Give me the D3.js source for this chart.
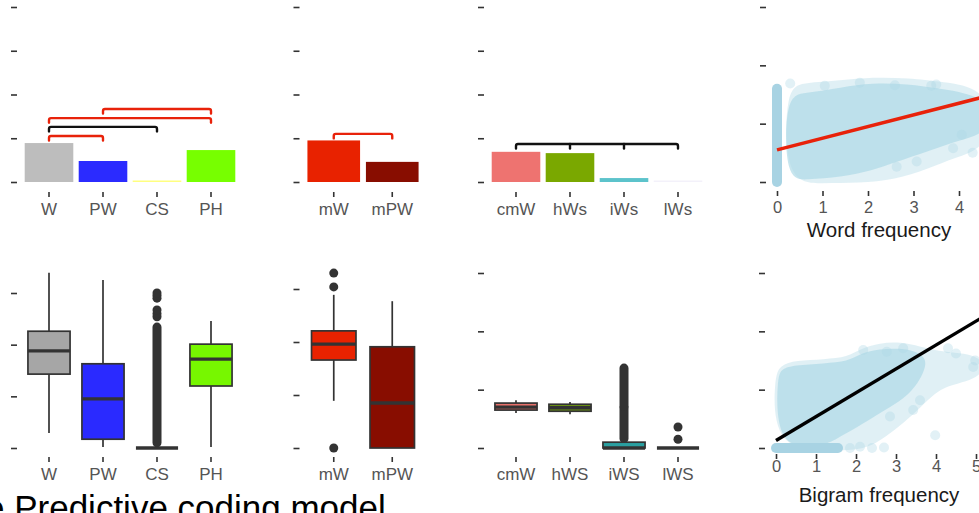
<!DOCTYPE html>
<html>
<head>
<meta charset="utf-8">
<script src="https://cdn.jsdelivr.net/npm/d3@7/dist/d3.min.js"></script>
<style>
  html, body { margin: 0; padding: 0; background: #fff; }
  svg { display: block; font-family: "Liberation Sans", Arial, Helvetica, sans-serif; }
</style>
</head>
<body>
<svg id="chart" width="979" height="513"></svg>
<script>
// ---------------- DATA ----------------
// Top row: bar charts (mean values, arbitrary units)
const barCats1 = ["W", "PW", "CS", "PH"];
const barVals1 = [0.89, 0.48, 0.03, 0.73];
const barCats2 = ["mW", "mPW"];
const barVals2 = [0.95, 0.46];
const barCats3 = ["cmW", "hWs", "iWs", "lWs"];
const barVals3 = [0.69, 0.66, 0.09, 0.01];
const barTicks = [0, 1, 2, 3, 4];

// significance brackets: [from, to, level, significance kind]
const brackets1 = [["W", "PW", 1.05, "red"], ["W", "CS", 1.26, "black"], ["W", "PH", 1.46, "red"], ["PW", "PH", 1.67, "red"]];
const brackets2 = [["mW", "mPW", 1.10, "red"]];
const brackets3 = [["cmW", "lWs", 0.87, "black"]];

// Bottom row: box plots  [lowWhisker, Q1, median, Q3, highWhisker]
const boxCats1 = ["W", "PW", "CS", "PH"];
const boxStats1 = [[0.29, 1.43, 1.88, 2.26, 3.39], [0.02, 0.17, 0.95, 1.63, 3.25], [0, 0, 0, 0, 0], [0.02, 1.20, 1.72, 2.01, 2.46]];
const boxOutliers1 = [[], [], [2.54, 2.60, 2.67, 2.90, 2.95, 3.00], []];
const boxOutlierRuns1 = [[], [], [[0.10, 2.34]], []];

const boxCats2 = ["mW", "mPW"];
const boxStats2 = [[0.89, 1.66, 1.96, 2.21, 2.89], [0, 0, 0.85, 1.91, 2.77]];
const boxOutliers2 = [[3.30, 3.04, 0.0], []];
const boxOutlierRuns2 = [[], []];

const boxCats3 = ["cmW", "hWS", "iWS", "lWS"];
const boxStats3 = [[0.60, 0.65, 0.70, 0.77, 0.82], [0.58, 0.63, 0.69, 0.75, 0.79], [0, 0, 0.0, 0.10, 0.14], [0, 0, 0, 0, 0]];
const boxOutliers3 = [[], [], [], [0.15, 0.36]];
const boxOutlierRuns3 = [[], [], [[0.16, 0.69], [0.71, 1.37]], []];
const boxTicks = [0, 1, 2, 3];

// Scatter panels (cloud outlines)
const wordTicksX = [0, 1, 2, 3, 4];
const wordTicksY = [0, 1, 2, 3];
const wordBand = [[0, 0.0], [0, 1.6]];           // dense column of points at frequency 0
const wordCloudOuter = [[0.18, 1.62], [0.6, 1.7], [1.4, 1.74], [2.1, 1.8], [2.9, 1.78], [3.6, 1.72], [4.7, 1.6],
  [4.7, 0.6], [3.9, 0.42], [3.3, 0.22], [2.6, 0.04], [1.8, -0.02], [1.0, -0.02], [0.18, -0.02]];
const wordCloudInner = [[0.18, 1.5], [0.65, 1.52], [1.4, 1.62], [2.1, 1.7], [2.85, 1.68], [3.6, 1.6], [4.7, 1.45],
  [4.7, 0.85], [4.0, 0.72], [3.3, 0.52], [2.6, 0.34], [2.1, 0.2], [1.4, 0.08], [0.65, 0.04], [0.18, 0.04]];
const wordStray = [[0.29, 1.69], [1.05, 1.65], [1.82, 1.70], [2.59, 1.66], [3.39, 1.65], [3.50, 1.67], [4.06, 0.81], [3.87, 0.58], [3.07, 0.35], [2.63, 0.26], [4.3, 0.5]];
const wordFit = { intercept: 0.55, slope: 0.2, xmax: 4.6 };

const bigramTicksX = [0, 1, 2, 3, 4, 5];
const bigramTicksY = [0, 1, 2, 3];
const bigramBand = [[0.0, 0], [1.55, 0]];
const bigramCloudOuter = [[-0.05, -0.05], [-0.05, 1.2], [0.1, 1.42], [0.5, 1.5], [1.2, 1.52], [1.8, 1.56], [2.1, 1.7], [2.6, 1.8],
  [3.1, 1.82], [3.6, 1.74], [4.2, 1.64], [5.2, 1.6], [5.2, 1.2], [4.3, 1.08], [3.9, 0.9], [3.5, 0.62], [3.1, 0.38], [2.6, 0.12], [2.2, -0.02], [1.6, -0.05]];
const bigramCloudInner = [[0.02, -0.02], [0.02, 1.22], [0.15, 1.36], [0.45, 1.42], [1.2, 1.45], [1.8, 1.48], [2.1, 1.62], [2.6, 1.7],
  [3.1, 1.71], [3.5, 1.66], [3.8, 1.52], [3.65, 1.22], [3.4, 0.98], [3.1, 0.8], [2.6, 0.6], [2.0, 0.34], [1.6, 0.2], [1.2, 0.02]];
const bigramStray = [[2.18, 1.68], [2.77, 1.65], [3.18, 1.71], [4.3, 1.71], [4.5, 1.62], [4.93, 1.39], [4.98, 1.5], [3.98, 0.22],
  [3.6, 0.82], [3.43, 0.65], [2.85, 0.54], [1.85, 0.0], [2.1, 0.02], [2.4, 0.0], [2.7, 0.01]];
const bigramFit = { intercept: 0.129, slope: 0.409, xmax: 5.2 };

const titleText = "e Predictive coding model";
const wordLabel = "Word frequency";
const bigramLabel = "Bigram frequency";

// ---------------- STYLE ----------------
const barColors1 = ["#bdbdbd", "#2b2bff", "#ffff80", "#77ff00"];
const barColors2 = ["#e82200", "#880d00"];
const barColors3 = ["#ee7370", "#7aa800", "#5cc3cb", "#f3f1fa"];
const boxColors1 = ["#a6a6a6", "#2a2aff", "#ffff66", "#77f700"];
const boxColors2 = ["#e82200", "#880d00"];
const boxColors3 = ["#e8706a", "#6e9a10", "#2a9fa0", "#b58ae0"];
const sigColor = { red: "#e8220a", black: "#111111" };
const cloudColor = "#add8e6";
const ink = "#333333";
const tickText = "#555555";

const svg = d3.select("#chart");
svg.append("rect").attr("width", 979).attr("height", 513).attr("fill", "#fff");

function yTicks(y, ticks, xRight) {
  const g = svg.append("g").attr("transform", `translate(${xRight},0)`)
    .call(d3.axisLeft(y).tickValues(ticks).tickSize(6).tickFormat(""));
  g.select(".domain").remove();
  g.selectAll("line").attr("stroke", ink).attr("stroke-width", 1.6);
}

function xAxis(x, ticks, yTop, labelDy, fontSize, fmt) {
  const ax = d3.axisBottom(x).tickSize(5).tickFormat(fmt || (d => d));
  if (ticks) ax.tickValues(ticks);
  const g = svg.append("g").attr("transform", `translate(0,${yTop})`).call(ax);
  g.select(".domain").remove();
  g.selectAll("line").attr("stroke", ink).attr("stroke-width", 1.6);
  g.selectAll("text").attr("dy", null).attr("y", labelDy)
    .attr("fill", tickText).attr("font-size", fontSize)
    .attr("font-family", "'Liberation Sans', Arial, Helvetica, sans-serif");
}

// ---------- bar panel ----------
function barPanel(cats, vals, colors, brackets, xr, allTicks) {
  const x = d3.scaleBand().domain(cats).range(xr).paddingInner(0);
  const y = d3.scaleLinear().domain([0, 4]).range([182, 7]);
  const bw = x.step() * 0.9;
  yTicks(y, barTicks, xr[0] - 5);
  svg.append("g").selectAll("rect").data(cats).join("rect")
    .attr("x", d => x(d) + (x.step() - bw) / 2)
    .attr("width", bw)
    .attr("y", (d, i) => Math.min(y(vals[i]), y(0) - 1.5))
    .attr("height", (d, i) => Math.max(y(0) - y(vals[i]), 1.5))
    .attr("fill", (d, i) => colors[i]);
  xAxis(x, null, 192, 23, 17);
  const cx = c => x(c) + x.step() / 2;
  brackets.forEach(b => {
    const x1 = cx(b[0]), x2 = cx(b[1]), yy = y(b[2]), r = 2, h = 4.5;
    const p = `M${x1},${yy + h} L${x1},${yy + r} Q${x1},${yy} ${x1 + r},${yy} L${x2 - r},${yy} Q${x2},${yy} ${x2},${yy + r} L${x2},${yy + h}`;
    const col = sigColor[b[3]];
    svg.append("path").attr("d", p).attr("fill", "none").attr("stroke", col)
      .attr("stroke-width", 2.4).attr("stroke-linecap", "round");
    if (allTicks) {
      const i1 = cats.indexOf(b[0]), i2 = cats.indexOf(b[1]);
      cats.slice(i1 + 1, i2).forEach(c => {
        svg.append("line").attr("x1", cx(c)).attr("x2", cx(c)).attr("y1", yy).attr("y2", yy + h)
          .attr("stroke", col).attr("stroke-width", 2.4).attr("stroke-linecap", "round");
      });
    }
  });
}

// ---------- box panel ----------
function boxPanel(cats, stats, outliers, runs, colors, xr, yr, boxFrac) {
  const x = d3.scaleBand().domain(cats).range(xr).paddingInner(0);
  const y = d3.scaleLinear().domain([0, 3]).range(yr);
  yTicks(y, boxTicks, xr[0] - 5);
  const bw = x.step() * boxFrac;
  const g = svg.append("g");
  cats.forEach((c, i) => {
    const s = stats[i];
    const cx = x(c) + x.step() / 2;
    g.append("line").attr("x1", cx).attr("x2", cx).attr("y1", y(s[4])).attr("y2", y(s[3]))
      .attr("stroke", ink).attr("stroke-width", 1.7);
    g.append("line").attr("x1", cx).attr("x2", cx).attr("y1", y(s[1])).attr("y2", y(s[0]))
      .attr("stroke", ink).attr("stroke-width", 1.7);
    runs[i].forEach(r => {
      g.append("line").attr("x1", cx).attr("x2", cx).attr("y1", y(r[0])).attr("y2", y(r[1]))
        .attr("stroke", ink).attr("stroke-width", 9).attr("stroke-linecap", "round");
    });
    outliers[i].forEach(v => {
      g.append("circle").attr("cx", cx).attr("cy", y(v)).attr("r", 4.5).attr("fill", ink);
    });
    g.append("rect").attr("x", cx - bw / 2).attr("width", bw)
      .attr("y", y(s[3])).attr("height", Math.max(y(s[1]) - y(s[3]), 0))
      .attr("fill", colors[i]).attr("stroke", ink).attr("stroke-width", 1.7);
    g.append("line").attr("x1", cx - bw / 2).attr("x2", cx + bw / 2).attr("y1", y(s[2])).attr("y2", y(s[2]))
      .attr("stroke", ink).attr("stroke-width", 3.4);
  });
  xAxis(x, null, 457, 23, 17);
}

// ---------- scatter panel ----------
function scatterPanel(id, xr, yr, xdom, ticksX, ticksY, band, outer, inner, stray, fit, fitColor, label, labelY, axisTop, labelDy) {
  const x = d3.scaleLinear().domain(xdom).range(xr);
  const y = d3.scaleLinear().domain([0, 3]).range(yr);
  yTicks(y, ticksY, xr[0] - 11);
  svg.append("clipPath").attr("id", id).append("rect")
    .attr("x", xr[0] - 8).attr("y", yr[1] - 5).attr("width", 979 - xr[0] + 8).attr("height", yr[0] - yr[1] + 12);
  const g = svg.append("g").attr("clip-path", `url(#${id})`);
  const area = d3.line().x(d => x(d[0])).y(d => y(d[1])).curve(d3.curveBasisClosed);
  g.append("path").attr("d", area(outer)).attr("fill", cloudColor).attr("opacity", 0.38);
  g.append("path").attr("d", area(inner)).attr("fill", cloudColor).attr("opacity", 0.68);
  g.selectAll("circle.stray").data(stray).join("circle").attr("class", "stray")
    .attr("cx", d => x(d[0])).attr("cy", d => y(d[1])).attr("r", 5)
    .attr("fill", cloudColor).attr("opacity", 0.35);
  g.append("line").attr("x1", x(band[0][0])).attr("y1", y(band[0][1]))
    .attr("x2", x(band[1][0])).attr("y2", y(band[1][1]))
    .attr("stroke", "#a8d3e3").attr("stroke-width", 10).attr("stroke-linecap", "round");
  g.append("line").attr("x1", x(0)).attr("y1", y(fit.intercept))
    .attr("x2", x(fit.xmax)).attr("y2", y(fit.intercept + fit.slope * fit.xmax))
    .attr("stroke", fitColor).attr("stroke-width", 3.4);
  xAxis(x, ticksX, axisTop, labelDy, 16.5, d3.format("d"));
  svg.append("text").attr("x", 879).attr("y", labelY).attr("text-anchor", "middle")
    .attr("font-size", 20.5).attr("fill", "#1a1a1a").text(label);
}

barPanel(barCats1, barVals1, barColors1, brackets1, [22, 238], false);
barPanel(barCats2, barVals2, barColors2, brackets2, [304.5, 421.5], false);
barPanel(barCats3, barVals3, barColors3, brackets3, [489, 705], true);

boxPanel(boxCats1, boxStats1, boxOutliers1, boxOutlierRuns1, boxColors1, [22, 238], [448, 293], 0.78);
boxPanel(boxCats2, boxStats2, boxOutliers2, boxOutlierRuns2, boxColors2, [304.5, 421.5], [448, 289], 0.76);
boxPanel(boxCats3, boxStats3, boxOutliers3, boxOutlierRuns3, boxColors3, [489, 705], [448, 273], 0.78);

scatterPanel("clipWord", [777, 822.5], [182, 7], [0, 1], wordTicksX, wordTicksY, wordBand,
  wordCloudOuter, wordCloudInner, wordStray, wordFit, "#e8220a", wordLabel, 237, 191, 22);
scatterPanel("clipBigram", [776, 816], [448, 273], [0, 1], bigramTicksX, bigramTicksY, bigramBand,
  bigramCloudOuter, bigramCloudInner, bigramStray, bigramFit, "#000000", bigramLabel, 502, 454, 18);

svg.append("text").attr("x", -15).attr("y", 520).attr("font-size", 35).attr("fill", "#000").text(titleText);
</script>
</body>
</html>
